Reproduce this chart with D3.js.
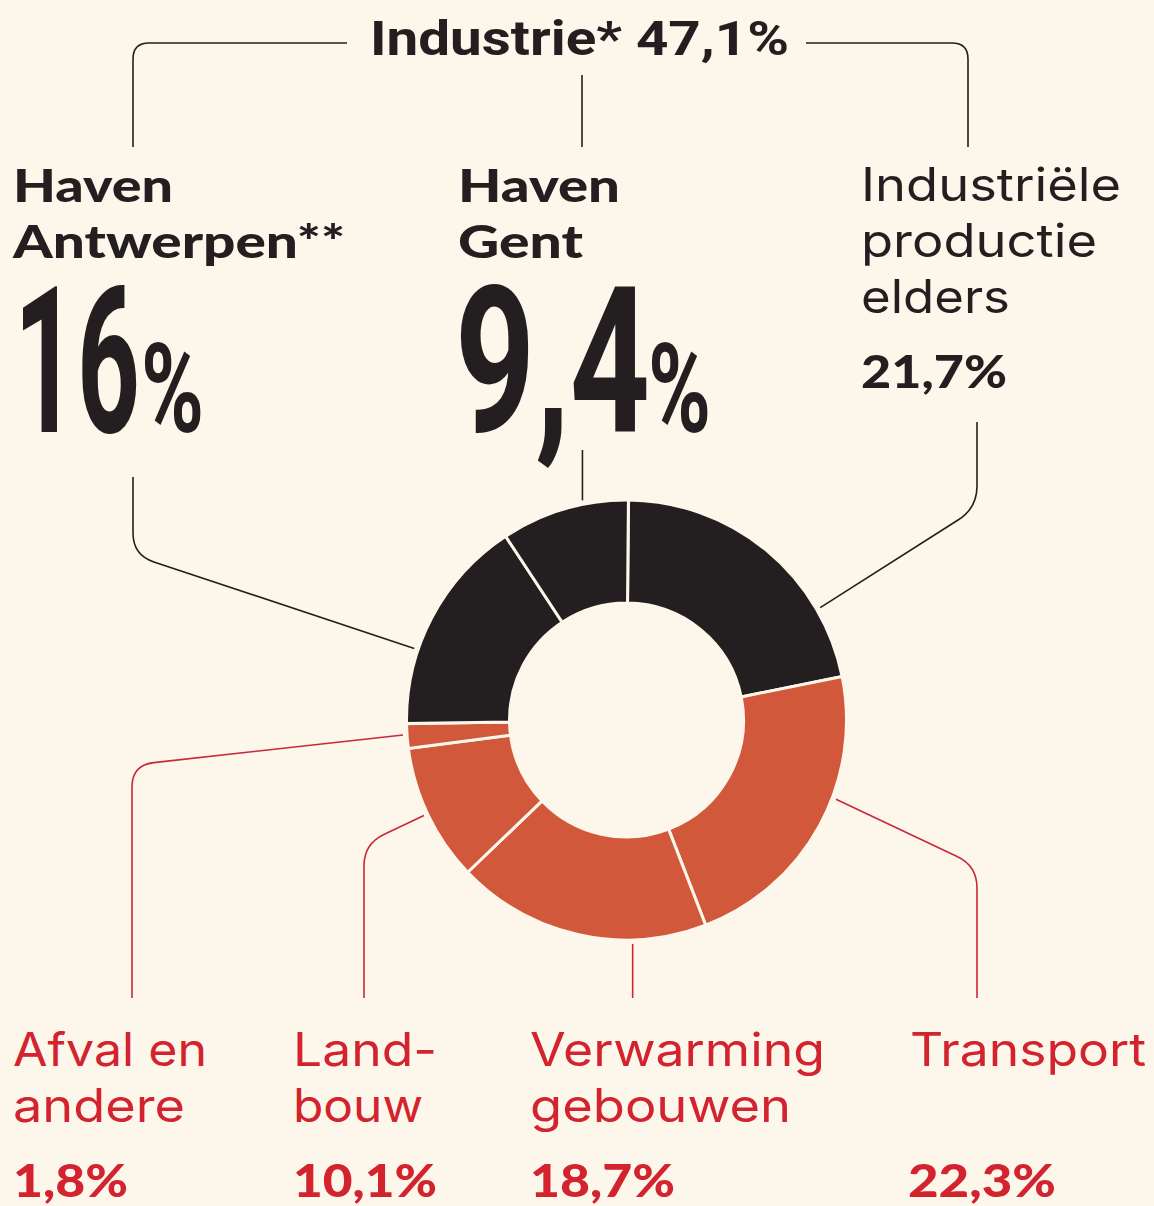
<!DOCTYPE html>
<html lang="nl">
<head>
<meta charset="utf-8">
<script src="https://cdn.jsdelivr.net/npm/d3@7"></script>
<style>
  html, body { margin: 0; padding: 0; background: #fdf6ea; }
  svg { display: block; }
</style>
</head>
<body>
<svg id="chart" width="1154" height="1206"></svg>
<script>
// Uitstoot per sector (aandeel in %)
const categories = ["Industriële productie elders", "Transport", "Verwarming gebouwen", "Landbouw", "Afval en andere", "Haven Antwerpen", "Haven Gent"];
const shares = [21.7, 22.3, 18.7, 10.1, 1.8, 16, 9.4];
const groups = ["industrie", "overig", "overig", "overig", "overig", "industrie", "industrie"];
const labelLines = [["Industriële", "productie", "elders"], ["Transport"], ["Verwarming", "gebouwen"], ["Land-", "bouw"], ["Afval en", "andere"], ["Haven", "Antwerpen**"], ["Haven", "Gent"]];
const industryTitle = "Industrie*";
const industryTotal = 47.1;

const W = 1154, H = 1206;
const BG = "#fdf6ea", DARK = "#231f20", ORANGE = "#d1583a", RED = "#d2232e";
const nl = d3.formatLocale({ decimal: ",", thousands: ".", grouping: [3], currency: ["€", ""] });
const fmt = v => nl.format(".1~f")(v) + "%";

const svg = d3.select("#chart");
svg.append("rect").attr("width", W).attr("height", H).attr("fill", BG);

// Donut
const cx = 626.5, cy = 720, rOuter = 220, rInner = 117;
const offset = 0.5 * Math.PI / 180;
const pie = d3.pie().sort(null).value(d => d).startAngle(offset).endAngle(offset + 2 * Math.PI);
const arcs = pie(shares);
const arc = d3.arc().innerRadius(rInner).outerRadius(rOuter);
const color = d3.scaleOrdinal().domain(["industrie", "overig"]).range([DARK, ORANGE]);

const donut = svg.append("g").attr("transform", `translate(${cx},${cy})`);
donut.selectAll("path").data(arcs).join("path")
  .attr("d", arc)
  .attr("fill", (d, i) => color(groups[i]))
  .attr("stroke", BG).attr("stroke-width", 3).attr("stroke-linejoin", "miter");

// Label layout per category (same order as categories)
const layout = [
  { t: 0.76, leg: [977, 422], bendY: 508, x: 861, lineY: [201, 257, 313], widths: [260, 236, 149], pctY: 388, pctW: 146, style: "light", color: DARK },
  { t: 0.40, leg: [977, 998], bendY: 866, x: 910, lineY: [1066], widths: [236], pctX: 908, pctY: 1197, pctW: 148, style: "light", color: RED },
  { t: 0.29, leg: [null, 998], x: 530, lineY: [1066, 1122], widths: [295, 261], pctY: 1197, pctW: 145, style: "light", color: RED },
  { t: 0.51, leg: [364, 998], bendY: 844, x: 293, lineY: [1066, 1122], widths: [144, 130], pctY: 1197, pctW: 144, style: "light", color: RED },
  { t: 0.55, leg: [132, 998], bendY: 765, x: 13, lineY: [1066, 1122], widths: [194, 172], pctY: 1197, pctW: 115, style: "light", color: RED },
  { t: 0.34, leg: [133, 477], bendY: 555, x: 13, lineY: [202, 258], widths: [160, 332], big: { x: 14, y: 432, digitsW: 126, pctW: 63, gap: 1 }, style: "heavy", color: DARK },
  { t: 0.65, leg: [null, 450], x: 458, lineY: [202, 258], widths: [162, 125], big: { x: 455, y: 432, digitsW: 195, pctW: 63, gap: -2 }, style: "heavy", color: DARK }
];

const polar = (angle, r) => [cx + r * Math.sin(angle), cy - r * Math.cos(angle)];

function elbow(A, B, C, r) {
  if (!B) return `M${A}L${C}`;
  const d1 = Math.hypot(A[0] - B[0], A[1] - B[1]);
  const d2 = Math.hypot(C[0] - B[0], C[1] - B[1]);
  const rr = Math.min(r, d1 / 2, d2 / 2);
  const p1 = [B[0] + (A[0] - B[0]) * rr / d1, B[1] + (A[1] - B[1]) * rr / d1];
  const p2 = [B[0] + (C[0] - B[0]) * rr / d2, B[1] + (C[1] - B[1]) * rr / d2];
  return `M${A}L${p1}Q${B} ${p2}L${C}`;
}

// Leader lines from each slice to its label
const leaders = svg.append("g").attr("fill", "none").attr("stroke-width", 1.6);
arcs.forEach((a, i) => {
  const L = layout[i];
  const ang = a.startAngle + L.t * (a.endAngle - a.startAngle);
  const A = polar(ang, rOuter + 4);
  let B = null, C;
  if (L.leg[0] === null) {
    C = [A[0], L.leg[1]];
  } else {
    B = [L.leg[0], L.bendY];
    C = L.leg;
  }
  leaders.append("path")
    .attr("d", elbow(A, B, C, 22))
    .attr("stroke", L.color === RED ? "#c8283a" : DARK);
});

// Bracket grouping the industrial slices
const bracket = svg.append("g").attr("fill", "none").attr("stroke", DARK).attr("stroke-width", 1.6);
bracket.append("path").attr("d", elbow([133, 147], [133, 43], [347, 43], 16));
bracket.append("path").attr("d", elbow([806, 43], [968, 43], [968, 147], 16));
bracket.append("path").attr("d", "M582,75L582,147");

function fitted(sel, w) {
  return sel.attr("textLength", w).attr("lengthAdjust", "spacingAndGlyphs");
}

fitted(svg.append("text")
  .attr("x", 370).attr("y", 55)
  .attr("font-family", "Roboto, 'Liberation Sans', sans-serif")
  .attr("font-weight", 700).attr("font-size", 49)
  .attr("fill", DARK)
  .text(`${industryTitle} ${fmt(industryTotal)}`), 419);

// Category labels
const labels = svg.append("g");
categories.forEach((c, i) => {
  const L = layout[i];
  labelLines[i].forEach((line, k) => {
    const t = labels.append("text")
      .attr("x", L.x).attr("y", L.lineY[k])
      .attr("fill", L.color)
      .attr("font-size", 46)
      .text(line);
    if (L.style === "heavy") {
      t.attr("font-family", "Lato, 'Open Sans', sans-serif").attr("font-weight", 900);
    } else {
      t.attr("font-family", "Inter, Roboto, sans-serif").attr("font-weight", 400);
    }
    fitted(t, L.widths[k]);
  });

  if (L.big) {
    // Large condensed figure: digits and a smaller percent sign
    const num = nl.format(".1~f")(shares[i]);
    const t = labels.append("text")
      .attr("x", L.big.x).attr("y", L.big.y)
      .attr("font-family", "Roboto, 'Liberation Sans', sans-serif")
      .attr("font-weight", 700)
      .attr("fill", DARK);
    fitted(t.append("tspan").attr("font-size", 204).text(num), L.big.digitsW);
    fitted(t.append("tspan").attr("font-size", 124).attr("dx", L.big.gap).text("%"), L.big.pctW);
  } else {
    fitted(labels.append("text")
      .attr("x", L.pctX ?? L.x).attr("y", L.pctY)
      .attr("fill", L.color)
      .attr("font-family", "Lato, 'Open Sans', sans-serif")
      .attr("font-weight", 900)
      .attr("font-size", 45)
      .text(fmt(shares[i])), L.pctW);
  }
});
</script>
</body>
</html>
